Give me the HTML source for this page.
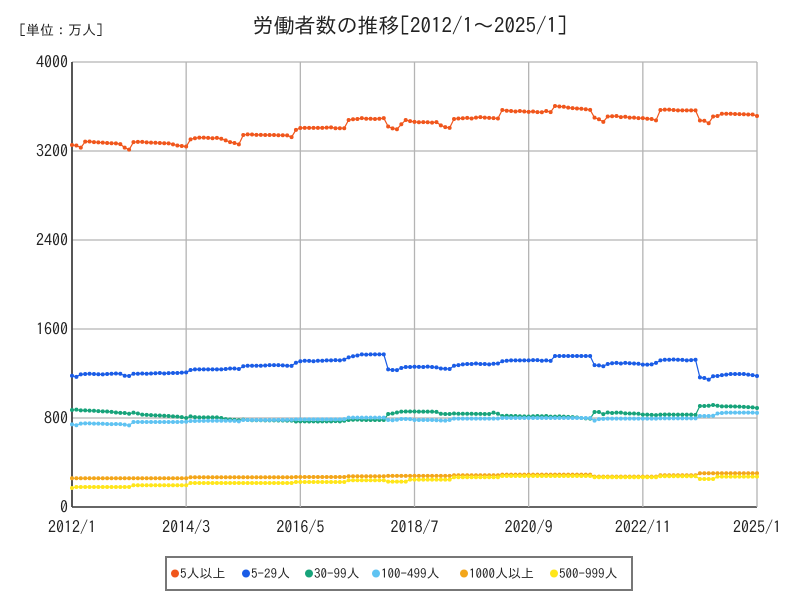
<!DOCTYPE html>
<html><head><meta charset="utf-8"><style>
html,body{margin:0;padding:0;background:#fff;}
svg{display:block;font-family:"IPAGothic","Liberation Sans","Noto Sans CJK JP",sans-serif;}
</style></head><body>
<svg id="chart" width="800" height="600" viewBox="0 0 800 600">
<rect width="800" height="600" fill="#fff"/>
<text x="12" y="35" font-size="14" fill="#222">［単位：万人］</text>
<text x="410" y="33" font-size="21" text-anchor="middle" fill="#222">労働者数の推移[2012/1～2025/1]</text>
<g id="grid"></g><g id="series"></g><g id="axes"></g>
<rect x="166" y="557" width="466" height="33" fill="#fff" stroke="#777" stroke-width="2"/>
<g id="legend"></g>
</svg>
<script>
const xTickLabels=["2012/1","2014/3","2016/5","2018/7","2020/9","2022/11","2025/1"];
const xTickMonths=[0,26,52,78,104,130,156];
const yTicks=[0,800,1600,2400,3200,4000];
const seriesNames=["5人以上","5-29人","30-99人","100-499人","1000人以上","500-999人"];
const s5plus=[3254,3250,3230,3284,3285,3280,3278,3275,3272,3270,3268,3262,
3230,3212,3280,3282,3282,3278,3275,3274,3272,3270,3268,3260,
3250,3245,3240,3305,3315,3320,3320,3318,3315,3318,3310,3295,
3280,3272,3260,3344,3350,3348,3345,3345,3344,3344,3344,3342,
3342,3340,3325,3390,3407,3408,3408,3408,3408,3408,3410,3412,
3405,3405,3405,3479,3485,3488,3495,3490,3490,3488,3490,3495,
3420,3403,3395,3440,3479,3468,3462,3458,3460,3458,3455,3460,
3430,3415,3408,3488,3492,3494,3498,3492,3500,3505,3500,3498,
3495,3492,3569,3562,3560,3555,3560,3555,3552,3555,3550,3548,
3560,3550,3605,3600,3598,3590,3585,3582,3580,3575,3570,3500,
3485,3462,3510,3512,3515,3505,3508,3500,3500,3495,3495,3490,
3488,3475,3569,3572,3572,3568,3565,3565,3565,3565,3565,3474,
3472,3450,3510,3515,3535,3535,3535,3533,3532,3530,3528,3528,
3515];
const s5to29=[1180,1170,1192,1195,1198,1195,1193,1192,1195,1198,1200,1198,
1180,1178,1198,1198,1200,1198,1200,1202,1205,1200,1203,1205,
1205,1208,1210,1231,1237,1237,1237,1237,1237,1237,1237,1240,
1245,1245,1240,1265,1270,1270,1270,1270,1272,1275,1275,1275,
1273,1270,1268,1297,1310,1315,1313,1310,1315,1315,1318,1318,
1320,1318,1325,1345,1355,1362,1372,1370,1372,1372,1372,1372,
1237,1232,1230,1250,1258,1258,1261,1260,1258,1262,1258,1255,
1245,1243,1240,1270,1275,1282,1285,1285,1290,1285,1285,1282,
1288,1290,1310,1315,1318,1318,1318,1318,1318,1320,1320,1315,
1318,1314,1357,1357,1357,1357,1357,1357,1357,1357,1357,1275,
1273,1265,1285,1292,1295,1290,1295,1292,1290,1288,1280,1280,
1282,1295,1318,1324,1324,1326,1324,1322,1318,1320,1324,1165,
1160,1145,1175,1178,1185,1190,1195,1195,1195,1195,1190,1185,
1178];
const s30to99=[872,875,868,868,866,865,862,860,858,855,850,846,
845,838,848,840,830,828,826,824,822,820,818,815,
812,808,800,815,808,806,806,806,806,806,800,790,
786,783,780,785,782,780,780,780,779,779,779,778,
778,776,776,768,770,770,768,770,768,770,770,770,
772,770,775,782,784,785,783,782,782,782,782,782,
836,840,850,857,858,858,858,857,857,857,857,855,
838,836,836,840,838,838,838,838,837,837,836,836,
848,838,818,820,818,818,816,815,814,816,818,816,
818,812,812,815,812,810,808,805,800,797,794,854,
854,835,850,845,848,848,842,840,840,838,830,830,
828,826,830,832,832,830,830,830,830,830,828,908,
908,910,917,910,905,905,904,903,902,900,898,895,
890];
const s100to499=[743,735,750,752,752,750,750,748,746,745,746,745,
740,734,764,764,764,764,764,764,764,764,764,764,
764,765,766,773,773,774,774,775,775,775,775,775,
775,774,770,782,782,782,782,782,782,782,783,783,
783,784,784,788,788,788,788,788,788,788,788,788,
788,788,790,803,803,803,803,803,803,803,803,803,
782,780,784,791,791,790,782,782,782,782,782,780,
778,776,782,794,794,794,794,794,794,794,794,794,
794,796,800,800,800,800,800,800,800,800,800,800,
800,800,800,800,800,800,800,800,800,800,800,776,
790,792,794,794,794,794,794,794,794,794,794,794,
794,794,797,797,797,797,797,797,797,797,797,818,
818,818,820,840,845,848,848,848,848,848,848,848,
846];
const s1000plus=[258,258,258,258,258,258,258,258,258,258,258,258,
258,258,258,258,258,258,258,258,258,258,258,258,
258,258,258,267,267,267,267,267,267,267,267,267,
267,267,267,267,267,267,267,267,267,267,267,267,
267,267,267,270,270,270,270,270,270,270,270,270,
270,270,270,276,276,276,276,276,276,276,276,276,
280,280,280,280,280,280,280,280,280,280,280,280,
280,280,280,285,285,285,285,285,285,285,285,285,
285,285,291,291,291,291,291,291,291,291,291,291,
291,291,291,291,291,291,291,291,291,291,291,273,
273,273,273,273,273,273,273,273,273,273,273,273,
273,273,285,285,285,285,285,285,285,285,285,303,
303,303,303,303,303,303,303,303,303,303,303,303,
303];
const s500to999=[171,180,180,180,180,180,180,180,180,180,180,180,
180,180,195,195,195,195,195,195,195,195,195,195,
195,195,195,216,216,216,216,216,216,216,216,216,
216,216,216,216,216,216,216,216,216,216,216,216,
216,216,216,225,225,225,225,225,225,225,225,225,
225,225,225,240,240,240,240,240,240,240,240,240,
228,228,228,228,228,246,246,246,246,246,246,246,
246,246,246,267,267,267,267,267,267,267,267,267,
267,267,279,279,279,279,279,279,279,279,279,279,
279,279,279,279,279,279,279,279,279,279,279,267,
267,267,267,267,267,267,267,267,267,267,267,267,
267,267,276,276,276,276,276,276,276,276,276,252,
252,252,252,273,273,273,273,273,273,273,273,273,
273];
const allSeries=[s5plus,s5to29,s30to99,s100to499,s1000plus,s500to999];
const colors=["#f0561c","#1a5ce6","#17a37a","#5fc3f2","#f3a61a","#ffe61a"];
const legendX=[171,242,305,372,460,550];

const NS="http://www.w3.org/2000/svg";
const X0=72,X1=757,Y0=507,Y1=62,MAXM=156,MAXV=4000;
const xs=m=>X0+(X1-X0)*m/MAXM;
const ys=v=>Y0-(Y0-Y1)*v/MAXV;
function mk(tag,attrs,parent){const e=document.createElementNS(NS,tag);for(const k in attrs)e.setAttribute(k,attrs[k]);parent.appendChild(e);return e;}
const grid=document.getElementById('grid'),axes=document.getElementById('axes'),ser=document.getElementById('series'),leg=document.getElementById('legend');
yTicks.forEach(v=>{
  const l=mk('line',{x1:X0,x2:X1,y1:ys(v),y2:ys(v),stroke:v===0?"#333":"#b4b4b4","stroke-width":v===0?1.5:1.3},grid);
  
  
  const t=mk('text',{x:X0-4,y:ys(v)+6,"font-size":16,"text-anchor":"end",fill:"#222"},axes);
  t.textContent=v;
  
  
});
xTickMonths.forEach((m,i)=>{
  const l=mk('line',{x1:xs(m),x2:xs(m),y1:Y1,y2:Y0,stroke:(i===0)?"#444":"#b4b4b4","stroke-width":(i===0)?1.8:1.3},grid);
  
  
  const t=mk('text',{x:xs(m),y:533,"font-size":16,"text-anchor":"middle",fill:"#222"},axes);
  t.textContent=xTickLabels[i];
  
  
});
allSeries.forEach((arr,si)=>{
  const g=mk('g',{},ser);
  
  
  const pts=arr.map((v,m)=>xs(m).toFixed(1)+","+ys(v).toFixed(1)).join(" ");
  const pl=mk('polyline',{points:pts,fill:"none",stroke:colors[si],"stroke-width":1.2},g);
  
  
  arr.forEach((v,m)=>{
    const c=mk('circle',{cx:xs(m),cy:ys(v),r:2,fill:colors[si]},g);
    
    
  });
});
seriesNames.forEach((n,i)=>{
  const g=mk('g',{},leg);
  
  
  mk('circle',{cx:legendX[i]+4,cy:573.5,r:4,fill:colors[i]},g);
  const t=mk('text',{x:legendX[i]+9,y:578,"font-size":13,fill:"#222"},g);
  t.textContent=n;
});
</script>
</body></html>
